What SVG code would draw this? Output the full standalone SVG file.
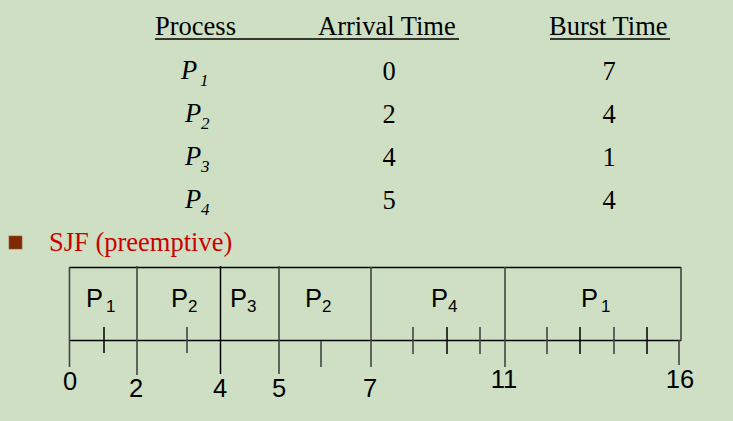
<svg xmlns="http://www.w3.org/2000/svg" width="733" height="421" viewBox="0 0 733 421">
<style>
.t{font-family:"Liberation Serif","Times New Roman",serif;font-size:26.5px;fill:#000}
.ti{font-family:"Liberation Serif","Times New Roman",serif;font-size:26.5px;font-style:italic;fill:#000}
.sub{font-size:17px}
.c{text-anchor:middle}
.a{font-family:"Liberation Sans",Arial,sans-serif;font-size:25.5px;fill:#000}
.as{font-size:17px}
.ln{stroke:#000;stroke-width:1.5;fill:none}
.gl{stroke:#444;stroke-width:1.6;fill:none}
</style>
<rect width="733" height="421" fill="#CEDFC4"/>
<g id="table-header">
  <text class="t" x="155" y="35">Process</text>
  <text class="t" x="318" y="35">Arrival Time</text>
  <text class="t" x="549" y="35">Burst Time</text>
  <line class="ln" x1="155" y1="39" x2="459" y2="39" stroke-width="2"/>
  <line class="ln" x1="550" y1="39" x2="670" y2="39" stroke-width="2"/>
</g>
<g id="row-p1">
  <text class="ti" x="181" y="79">P</text><text class="ti sub" x="200" y="86">1</text>
  <text class="t c" x="389" y="80">0</text>
  <text class="t c" x="609" y="80">7</text>
</g>
<g id="row-p2">
  <text class="ti" x="185" y="122">P</text><text class="ti sub" x="201" y="129">2</text>
  <text class="t c" x="389" y="123">2</text>
  <text class="t c" x="609" y="123">4</text>
</g>
<g id="row-p3">
  <text class="ti" x="185" y="165">P</text><text class="ti sub" x="201" y="172">3</text>
  <text class="t c" x="389" y="166">4</text>
  <text class="t c" x="609" y="166">1</text>
</g>
<g id="row-p4">
  <text class="ti" x="185" y="208">P</text><text class="ti sub" x="201" y="215">4</text>
  <text class="t c" x="389" y="209">5</text>
  <text class="t c" x="609" y="209">4</text>
</g>
<g id="bullet">
  <rect x="9" y="236" width="13" height="13" fill="#7F2A00" stroke="#A0522D" stroke-width="0.6"/>
  <text class="t" x="49" y="251" style="fill:#CC0000">SJF (preemptive)</text>
</g>
<g id="gantt-frame">
  <line class="ln" x1="69.5" y1="267.5" x2="681" y2="267.5"/>
  <line class="ln" x1="69.5" y1="340.5" x2="681" y2="340.5"/>
  <line class="gl" x1="681" y1="267" x2="681" y2="341"/>
</g>
<g id="seg-p1a"><text class="a" x="86" y="307">P<tspan class="as" dx="3" dy="5">1</tspan></text></g>
<g id="seg-p2a"><text class="a" x="171" y="307">P<tspan class="as" dx="0" dy="5">2</tspan></text></g>
<g id="seg-p3"><text class="a" x="230" y="307">P<tspan class="as" dx="0" dy="5">3</tspan></text></g>
<g id="seg-p2b"><text class="a" x="305" y="307">P<tspan class="as" dx="0" dy="5">2</tspan></text></g>
<g id="seg-p4"><text class="a" x="431" y="307">P<tspan class="as" dx="0" dy="5">4</tspan></text></g>
<g id="seg-p1b"><text class="a" x="581" y="307">P<tspan class="as" dx="3" dy="5">1</tspan></text></g>
<g id="connectors">
  <line class="gl" x1="69.5" y1="267" x2="69.5" y2="367"/>
  <line class="gl" x1="137" y1="266" x2="137" y2="375"/>
  <line class="ln" x1="220.5" y1="266" x2="220.5" y2="374"/>
  <line class="gl" x1="279" y1="266" x2="279" y2="374"/>
  <line class="gl" x1="371" y1="267" x2="371" y2="367"/>
  <line class="gl" x1="505" y1="267" x2="505" y2="367"/>
  <line class="gl" x1="679" y1="340" x2="679" y2="365"/>
  <line class="ln" x1="104" y1="327" x2="104" y2="353"/>
  <line class="gl" x1="187" y1="327" x2="187" y2="353"/>
  <line class="gl" x1="321" y1="341" x2="321" y2="367"/>
  <line class="gl" x1="413" y1="327" x2="413" y2="354"/>
  <line class="ln" x1="447" y1="327" x2="447" y2="354"/>
  <line class="gl" x1="480" y1="327" x2="480" y2="354"/>
  <line class="gl" x1="547" y1="327" x2="547" y2="354"/>
  <line class="ln" x1="580" y1="327" x2="580" y2="354"/>
  <line class="gl" x1="614" y1="327" x2="614" y2="354"/>
  <line class="ln" x1="647" y1="327" x2="647" y2="354"/>
</g>
<g id="time-labels">
  <text class="a c" x="70" y="390">0</text>
  <text class="a c" x="136" y="397">2</text>
  <text class="a c" x="220" y="397">4</text>
  <text class="a c" x="279" y="397">5</text>
  <text class="a c" x="370" y="397">7</text>
  <text class="a c" x="504" y="388">11</text>
  <text class="a c" x="680" y="388">16</text>
</g>
</svg>
